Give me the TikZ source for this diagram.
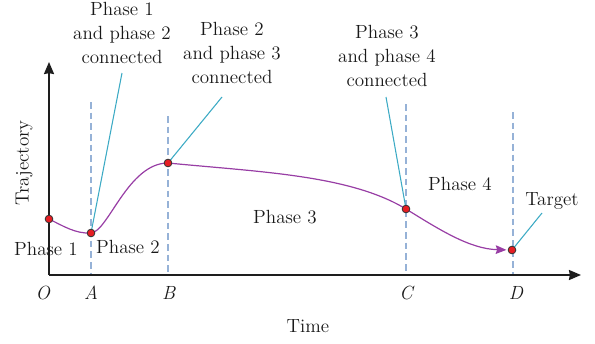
\documentclass[tikz,border=0pt]{standalone}
\usetikzlibrary{arrows.meta}
\definecolor{curvepurple}{RGB}{152,62,165}
\definecolor{leadercyan}{RGB}{60,170,196}
\definecolor{guideblue}{RGB}{150,178,215}
\definecolor{dotred}{RGB}{230,30,36}
\definecolor{axisgray}{RGB}{30,30,30}
\pgfdeclarelayer{bg}
\pgfsetlayers{bg,main}
\begin{document}
\begin{tikzpicture}[x=0.75pt,y=-0.75pt,
  every node/.style={font=\fontsize{14.3}{18}\selectfont, inner sep=0pt, text=black!90},
  dot/.style={circle, fill=dotred, draw=black!80, line width=0.6pt, minimum size=5.8pt, inner sep=0pt},
  guide/.style={draw=guideblue, line width=0.8pt, dash pattern=on 5pt off 3pt},
  leader/.style={draw=leadercyan, line width=0.8pt},
  axis/.style={draw=axisgray, line width=1.4pt, -{Stealth[length=9pt,width=7.5pt,inset=0.6pt]}},
  traj/.style={draw=curvepurple, line width=0.9pt}]
\useasboundingbox (0,0) rectangle (595,343);

% axes
\coordinate (orig) at (49,275);
\coordinate (xend) at (581,275);
\coordinate (yend) at (49,62);
\draw[axis] (orig) -- (xend);
\draw[axis] (orig) -- (yend);

% points on trajectory
\node[dot] (O) at (49,219) {};
\node[dot] (A) at (91,233) {};
\node[dot] (B) at (168,163) {};
\node[dot] (C) at (406,209) {};
\node[dot] (D) at (512,250) {};

% guide line ends
\coordinate (Atop) at (91,102);  \coordinate (Abot) at (91,275);
\coordinate (Btop) at (168,116); \coordinate (Bbot) at (168,275);
\coordinate (Ctop) at (406,104); \coordinate (Cbot) at (406,275);
\coordinate (Dtop) at (513,112); \coordinate (Dbot) at (513,275);

% leader ends
\coordinate (LA) at (122,73);
\coordinate (LB) at (222,97);
\coordinate (LC) at (386,97);
\coordinate (LD) at (542,213);

\begin{pgfonlayer}{bg}
\draw[guide] (Atop) -- (Abot);
\draw[guide] (Btop) -- (Bbot);
\draw[guide] (Ctop) -- (Cbot);
\draw[guide] (Dtop) -- (Dbot);
\draw[leader] (A.center) -- (LA);
\draw[leader] (B.center) -- (LB);
\draw[leader] (C.center) -- (LC);
\draw[leader] (D.center) -- (LD);
\draw[traj] (O.center) .. controls (63,226) and (76,234) .. (A.center)
  .. controls (108,232) and (128,163) .. (B.center)
  .. controls (260,172) and (350,175) .. (C.center);
\draw[traj, -{Stealth[length=8pt,width=6.5pt,inset=1pt]}, shorten >=1pt]
  (C.center) .. controls (440,230) and (470,249) .. (D);
\end{pgfonlayer}

% labels
\node[anchor=north, align=center] (t1) at (122,2) {Phase 1\\and phase 2\\connected};
\node[anchor=north, align=center] (t2) at (232,22) {Phase 2\\and phase 3\\connected};
\node[anchor=north, align=center] (t3) at (387,25) {Phase 3\\and phase 4\\connected};

\node[anchor=base] (p1) at (46,255) {Phase 1};
\node[anchor=base] (p2) at (128,253) {Phase 2};
\node[anchor=base] (p3) at (285,223) {Phase 3};
\node[anchor=base] (p4) at (460,190) {Phase 4};
\node[anchor=base] (tg) at (552,205) {Target};

\node[anchor=base] (lO) at (43,299) {\textit{O}};
\node[anchor=base] (lA) at (91,299) {\textit{A}};
\node[anchor=base] (lB) at (169,299) {\textit{B}};
\node[anchor=base] (lC) at (407,299) {\textit{C}};
\node[anchor=base] (lD) at (516,299) {\textit{D}};

\node[anchor=base] (time) at (308,332) {Time};
\node[rotate=90] (traj) at (24,163) {Trajectory};
\end{tikzpicture}
\end{document}
